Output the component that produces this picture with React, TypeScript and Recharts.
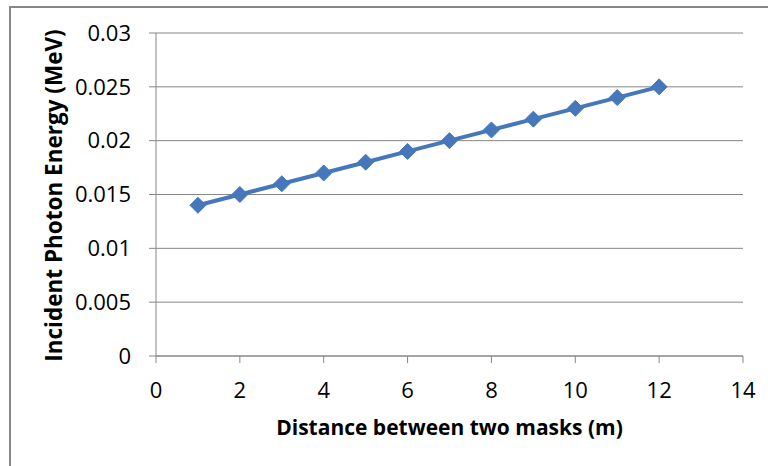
import React from 'react';
import { LineChart, Line, XAxis, YAxis, CartesianGrid } from 'recharts';

const distances = [1, 2, 3, 4, 5, 6, 7, 8, 9, 10, 11, 12];
const energies = [0.014, 0.015, 0.016, 0.017, 0.018, 0.019, 0.02, 0.021, 0.022, 0.023, 0.024, 0.025];
const xTicks = [0, 2, 4, 6, 8, 10, 12, 14];
const yTicks = [0, 0.005, 0.01, 0.015, 0.02, 0.025, 0.03];
const xTitle = 'Distance between two masks (m)';
const yTitle = 'Incident Photon Energy (MeV)';

const data = distances.map((d, i) => ({ x: d, y: energies[i] }));

const FONT = '"Open Sans", sans-serif';
const BLUE = '#4677BB';
const GRAY = '#878787';

const Diamond = (props: any) => {
  const { cx, cy } = props;
  if (cx == null || cy == null) return null;
  const r = 8;
  return (
    <polygon
      points={`${cx},${cy - r} ${cx + r},${cy} ${cx},${cy + r} ${cx - r},${cy}`}
      fill={BLUE}
      stroke={BLUE}
      strokeWidth={1}
    />
  );
};

const YTitle = (props: any) => {
  const vb = props.viewBox || {};
  const x = (vb.x || 0) + 53;
  const y = (vb.y || 0) + (vb.height || 0) / 2 + 1;
  return (
    <text
      x={x}
      y={y}
      transform={`rotate(-90, ${x}, ${y})`}
      textAnchor="middle"
      dominantBaseline="central"
      fontFamily={FONT}
      fontWeight="bold"
      fontSize={22.5}
      fill="#000"
    >
      {yTitle}
    </text>
  );
};

const XTitle = (props: any) => {
  const vb = props.viewBox || {};
  const x = (vb.x || 0) + (vb.width || 0) / 2;
  const y = (vb.y || 0) + 71;
  return (
    <text
      x={x}
      y={y}
      textAnchor="middle"
      dominantBaseline="central"
      fontFamily={FONT}
      fontWeight="bold"
      fontSize={21}
      fill="#000"
    >
      {xTitle}
    </text>
  );
};

export default function App() {
  return (
    <div style={{ position: 'absolute', left: 0, top: 0, width: 768, height: 466, background: '#fff', overflow: 'hidden' }}>
      <div
        style={{
          position: 'absolute',
          left: 9,
          top: 6,
          width: 800,
          height: 520,
          border: `2px solid ${GRAY}`,
          boxSizing: 'border-box',
        }}
      />
      <div style={{ position: 'absolute', left: 0, top: 0 }}>
        <LineChart
          width={768}
          height={466}
          data={data}
          margin={{ top: 33, right: 25, left: 0, bottom: 20 }}
        >
          <CartesianGrid vertical={false} stroke={GRAY} strokeWidth={1} />
          <XAxis
            dataKey="x"
            type="number"
            domain={[0, 14]}
            ticks={xTicks}
            height={90}
            tickSize={7}
            tickMargin={19}
            axisLine={{ stroke: GRAY }}
            tickLine={{ stroke: GRAY }}
            tick={{ fill: '#000', fontSize: 22, fontFamily: FONT }}
            label={<XTitle />}
          />
          <YAxis
            type="number"
            domain={[0, 0.03]}
            ticks={yTicks}
            width={156}
            tickSize={7}
            tickMargin={18}
            axisLine={{ stroke: GRAY }}
            tickLine={{ stroke: GRAY }}
            tick={{ fill: '#000', fontSize: 22, fontFamily: FONT }}
            label={<YTitle />}
          />
          <Line
            dataKey="y"
            stroke={BLUE}
            strokeWidth={4}
            dot={<Diamond />}
            activeDot={false}
            isAnimationActive={false}
          />
        </LineChart>
      </div>
    </div>
  );
}
